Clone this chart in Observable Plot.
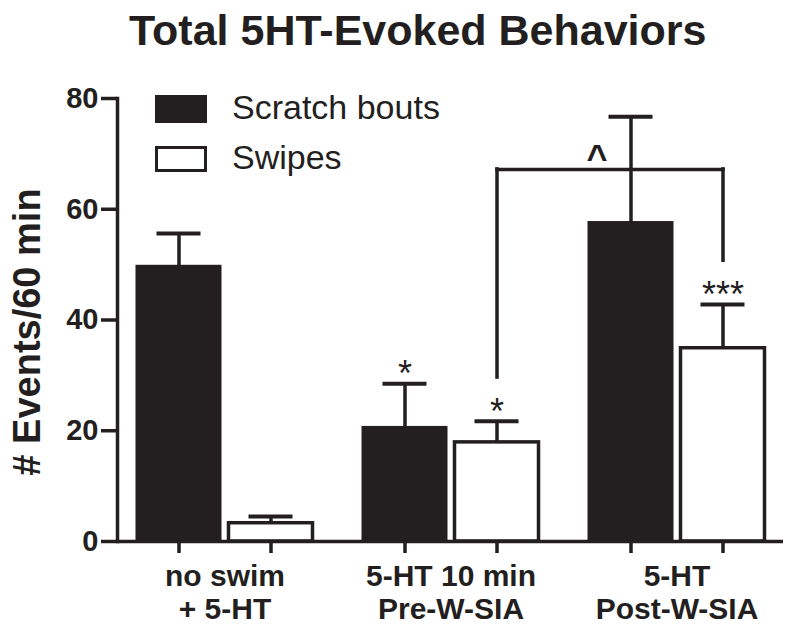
<!DOCTYPE html>
<html>
<head>
<meta charset="utf-8">
<script src="https://cdn.jsdelivr.net/npm/d3@7"></script>
<script src="https://cdn.jsdelivr.net/npm/@observablehq/plot@0.6"></script>
<style>
  html, body { margin: 0; padding: 0; background: #fff; }
  #wrap { position: relative; width: 800px; height: 632px; font-family: "Liberation Sans", Arial, sans-serif; color: #231f20; }
  #title { height: 60px; line-height: 60px; font-size: 43px; font-weight: bold; padding-left: 129px; white-space: nowrap; }
  .sw { position: absolute; box-sizing: border-box; }
  .lt { position: absolute; font-size: 34px; line-height: 34px; white-space: nowrap; }
  svg { display: block; }
</style>
</head>
<body>
<div id="wrap">
  <div id="title">Total 5HT-Evoked Behaviors</div>
  <div id="chart"></div>
  <div class="sw" style="left:155px;top:95px;width:52px;height:28px;background:#231f20;"></div>
  <div class="lt" style="left:232px;top:90px;">Scratch bouts</div>
  <div class="sw" style="left:155px;top:146px;width:52px;height:26px;background:#fff;border:3.5px solid #231f20;"></div>
  <div class="lt" style="left:232px;top:140px;">Swipes</div>
</div>
<script>
const ink = "#231f20";
const groups = ["no swim\n+ 5-HT", "5-HT 10 min\nPre-W-SIA", "5-HT\nPost-W-SIA"];
const scratchMeans = [49.7, 20.6, 57.6];
const scratchErrTop = [55.6, 28.5, 76.7];
const swipeMeans = [3.3, 17.9, 34.9];
const swipeErrTop = [4.5, 21.7, 42.8];
const scratchSig = ["", "*", ""];
const swipeSig = ["", "*", "***"];
const yTicks = [0, 20, 40, 60, 80];
const yLabel = "# Events/60 min";
const bracketFrom = groups[1];
const bracketTo = groups[2];
const bracketY = 67.2;
const bracketLegEnds = [29.6, 50.7];
const bracketLabel = "^";

const scratch = groups.map((g, i) => ({group: g, mean: scratchMeans[i], err: scratchErrTop[i], sig: scratchSig[i]}));
const swipes = groups.map((g, i) => ({group: g, mean: swipeMeans[i], err: swipeErrTop[i], sig: swipeSig[i]}));
const bracketLine = [{x1: bracketFrom, x2: bracketTo, y: bracketY}];
const bracketLegs = [{g: bracketFrom, y1: bracketLegEnds[0], y2: bracketY}, {g: bracketTo, y1: bracketLegEnds[1], y2: bracketY}];

const off = 46;

const chart = Plot.plot({
  width: 800,
  height: 572,
  marginTop: 38,
  marginBottom: 91,
  marginLeft: 117,
  marginRight: 17,
  style: {fontFamily: "Liberation Sans, Arial, sans-serif", color: ink, background: "#fff", overflow: "visible"},
  x: {type: "band", domain: groups, paddingInner: 0.218, paddingOuter: 0.08, label: null},
  y: {domain: [0, 80], label: null},
  marks: [
    // error bars (upper only)
    Plot.ruleX(scratch, {x: "group", y1: "mean", y2: "err", dx: -off, stroke: ink, strokeWidth: 3.5}),
    Plot.tickY(scratch, {x: "group", y: "err", dx: -off, insetLeft: 66.5, insetRight: 66.5, stroke: ink, strokeWidth: 4}),
    Plot.ruleX(swipes, {x: "group", y1: "mean", y2: "err", dx: off, stroke: ink, strokeWidth: 3.5}),
    Plot.tickY(swipes, {x: "group", y: "err", dx: off, insetLeft: 66.5, insetRight: 66.5, stroke: ink, strokeWidth: 4}),
    // bars
    Plot.barY(scratch, {x: "group", y: "mean", fill: ink, stroke: ink, strokeWidth: 2, insetLeft: 0.5, insetRight: 92.5}),
    Plot.barY(swipes, {x: "group", y: "mean", fill: "#fff", stroke: ink, strokeWidth: 3.5, insetLeft: 92.5, insetRight: 0.5}),
    // significance
    Plot.text(scratch.filter(d => d.sig), {x: "group", y: "err", text: "sig", dx: -off, dy: -9, fontSize: 36, fill: ink}),
    Plot.text(swipes.filter(d => d.sig), {x: "group", y: "err", text: "sig", dx: off, dy: -9, fontSize: 36, fill: ink}),
    // bracket
    Plot.link(bracketLine, {x1: "x1", x2: "x2", y1: "y", y2: "y", dx: off, stroke: ink, strokeWidth: 3.5, strokeLinecap: "square"}),
    Plot.ruleX(bracketLegs, {x: "g", y1: "y1", y2: "y2", dx: off, stroke: ink, strokeWidth: 3.5, strokeLinecap: "square"}),
    Plot.text([bracketLabel], {x: () => bracketTo, y: () => bracketY, text: d => d, dx: -80, dy: -11, fontSize: 36, fontWeight: "bold", fill: ink}),
    // axes
    Plot.ruleY([0], {stroke: ink, strokeWidth: 3.5}),
    Plot.frame({anchor: "left", stroke: ink, strokeWidth: 3.5}),
    Plot.axisY({ticks: yTicks, tickSize: 16, tickPadding: 3, fontSize: 29, fontWeight: "bold", stroke: ink, strokeWidth: 3.5, fill: ink, label: null}),
    Plot.axisX({tickSize: 12, tickFormat: () => "", dx: -off, stroke: ink, strokeWidth: 3.5, label: null}),
    Plot.axisX({tickSize: 12, tickFormat: () => "", dx: off, stroke: ink, strokeWidth: 3.5, label: null}),
    Plot.axisX({tickSize: 0, tickPadding: 20, fontSize: 30, fontWeight: "bold", lineHeight: 1.13, fill: ink, label: null}),
    Plot.text([yLabel], {frameAnchor: "left", rotate: -90, dx: -104, dy: 12, lineAnchor: "top", textAnchor: "middle", text: d => d, fontSize: 38, fontWeight: "bold", fill: ink})
  ]
});
document.getElementById("chart").appendChild(chart);
</script>
</body>
</html>
